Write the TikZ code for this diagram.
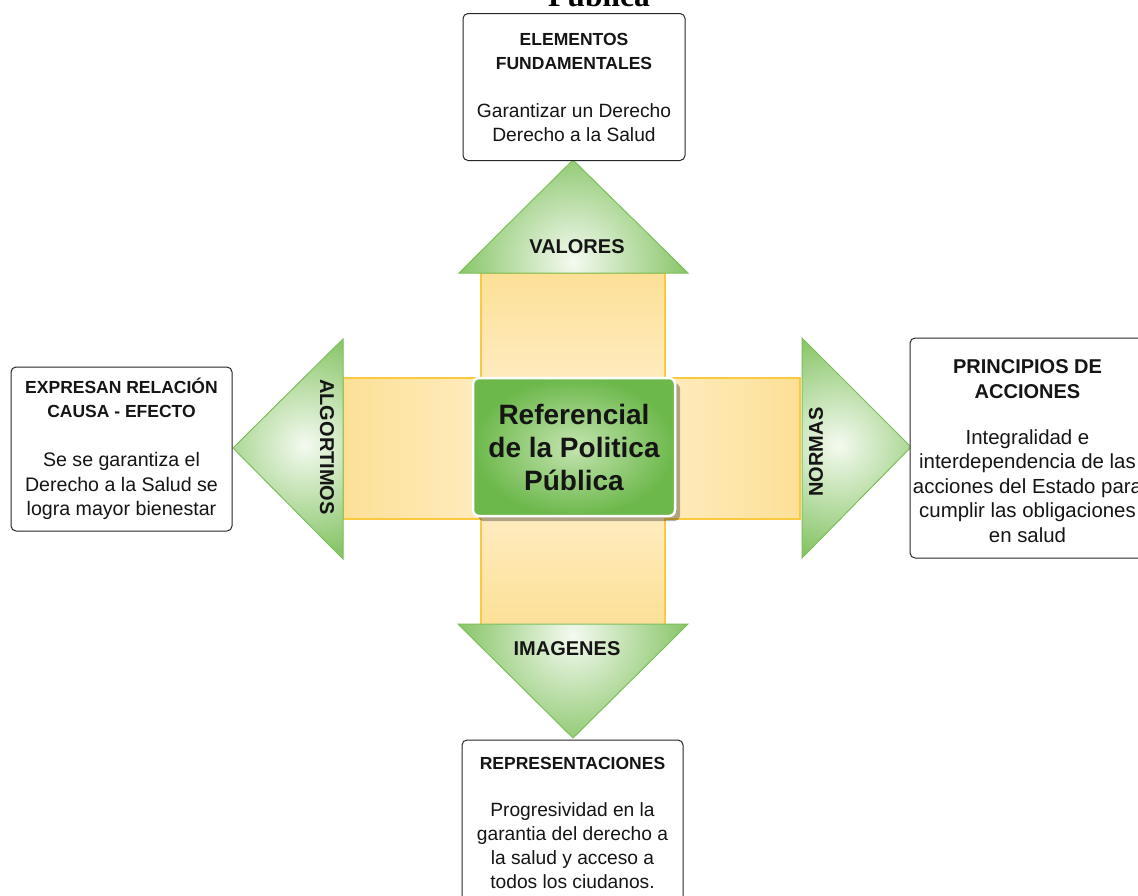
\documentclass[tikz,border=0pt]{standalone}
\usepackage{fontspec}
\setmainfont{Liberation Sans}
\newfontfamily\serifb{Liberation Serif}
\usetikzlibrary{shadows}
\definecolor{gr}{HTML}{88C568}
\definecolor{grb}{HTML}{7EBF5C}
\definecolor{grl}{HTML}{F4FAF0}
\definecolor{yl}{HTML}{FDE097}
\definecolor{yll}{HTML}{FFF3D8}
\definecolor{ylb}{HTML}{F9C940}
\definecolor{cg}{HTML}{6CB84B}
\definecolor{cgl}{HTML}{C4E4B0}
\definecolor{txt}{HTML}{151515}
\begin{document}
\begin{tikzpicture}[x=1pt,y=-1pt,
  box/.style={draw=black!85, line width=1pt, rounded corners=5pt, fill=white,
    align=center, inner sep=2pt, text=txt,
    font=\fontsize{19.2}{24}\selectfont},
  lbl/.style={font=\bfseries\fontsize{20}{24}\selectfont, text=txt, inner sep=0pt}]
\useasboundingbox (0,0) rectangle (1138,895);
\clip (0,0) rectangle (1138,895);

% title (cut off at top)
\node[font=\serifb\bfseries\fontsize{31.5}{34}\selectfont, anchor=base, inner sep=0pt] (title) at (599,6) {Pública};

% yellow cross
\shade[left color=yl, right color=yl, middle color=yll] (343,378) rectangle (800,519);
\shade[top color=yl, bottom color=yl, middle color=yll] (481,273) rectangle (665,625);
\draw[ylb, line width=1.2pt] (481,273) -- (665,273) -- (665,378) -- (800,378) -- (800,519)
  -- (665,519) -- (665,625) -- (481,625) -- (481,519) -- (343,519) -- (343,378)
  -- (481,378) -- cycle;

% triangles
% up
\fill[gr] (459,273) -- (573,160) -- (688,273) -- cycle;
\begin{scope}
  \clip (459,273) -- (573,160) -- (688,273) -- cycle;
  \shade[inner color=grl, outer color=gr] (573,262) circle (115);
\end{scope}
\draw[grb, line width=1pt] (459,273) -- (573,160) -- (688,273) -- cycle;
% down
\fill[gr] (458,624) -- (573,738) -- (688,624) -- cycle;
\begin{scope}
  \clip (458,624) -- (573,738) -- (688,624) -- cycle;
  \shade[inner color=grl, outer color=gr] (573,636) circle (115);
\end{scope}
\draw[grb, line width=1pt] (458,624) -- (573,738) -- (688,624) -- cycle;
% left
\fill[gr] (343,339) -- (233,448) -- (343,559) -- cycle;
\begin{scope}
  \clip (343,339) -- (233,448) -- (343,559) -- cycle;
  \shade[inner color=grl, outer color=gr] (305,445) circle (110);
\end{scope}
\draw[grb, line width=1pt] (343,339) -- (233,448) -- (343,559) -- cycle;
% right
\fill[gr] (802,338) -- (911,447) -- (802,558) -- cycle;
\begin{scope}
  \clip (802,338) -- (911,447) -- (802,558) -- cycle;
  \shade[inner color=grl, outer color=gr] (838,445) circle (110);
\end{scope}
\draw[grb, line width=1pt] (802,338) -- (911,447) -- (802,558) -- cycle;

% labels
\node[lbl] (val) at (577,247) {VALORES};
\node[lbl] (img) at (567,649) {IMAGENES};
\node[lbl, rotate=-90] (alg) at (327,447) {ALGORTIMOS};
\node[lbl, rotate=90] (nor) at (816,452) {NORMAS};

% center
\node[draw=white, line width=2.5pt, rounded corners=6pt, minimum width=202pt,
  minimum height=138pt, inner color=cgl, outer color=cg,
  drop shadow={shadow xshift=5pt, shadow yshift=-5pt, opacity=0.3, fill=black},
  align=center, text=txt, font=\bfseries\fontsize{28}{33}\selectfont] (core) at (574,447)
  {Referencial\\de la Politica\\Pública};

% boxes
\node[box, minimum width=222pt, minimum height=147pt] (topb) at (574,87)
  {{\bfseries\fontsize{17.5}{22}\selectfont ELEMENTOS}\\
   {\bfseries\fontsize{17.5}{22}\selectfont FUNDAMENTALES}\\[24pt]
   Garantizar un Derecho\\Derecho a la Salud};

\node[box, minimum width=221pt, minimum height=164pt, font=\fontsize{19.6}{24.5}\selectfont] (leftb) at (121.5,449)
  {{\bfseries\fontsize{17.5}{22}\selectfont EXPRESAN RELACIÓN}\\
   {\bfseries\fontsize{17.5}{22}\selectfont CAUSA - EFECTO}\\[24.5pt]
   Se se garantiza el\\Derecho a la Salud se\\logra mayor bienestar};

\node[box, minimum width=235pt, minimum height=220pt] (rightb) at (1027.5,448) {};
\node[align=center, inner sep=0pt, text=txt, font=\fontsize{20.4}{24.4}\selectfont] (rightt) at (1027.5,451)
  {{\bfseries\fontsize{20}{24}\selectfont PRINCIPIOS DE}\\
   {\bfseries\fontsize{20}{24}\selectfont ACCIONES}\\[22pt]
   Integralidad e\\interdependencia de las\\acciones del Estado para\\cumplir las obligaciones\\en salud};

\node[box, minimum width=221pt, minimum height=166pt] (botb) at (572.5,823)
  {{\bfseries\fontsize{17.5}{22}\selectfont REPRESENTACIONES}\\[23pt]
   Progresividad en la\\garantia del derecho a\\la salud y acceso a\\todos los ciudanos.};
\end{tikzpicture}
\end{document}
